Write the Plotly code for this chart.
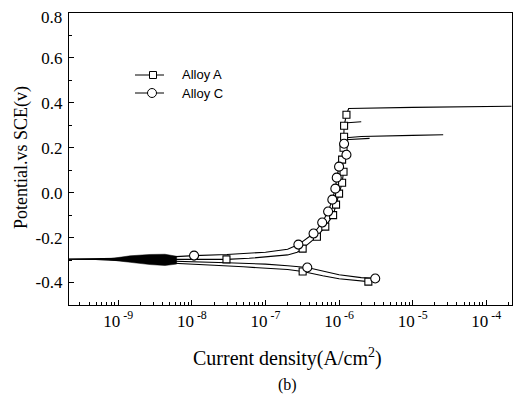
import plotly.graph_objects as go

# ---------------- data (current density A/cm2, potential V vs SCE) ----------------
a_line_cur = [2.5e-6, 1.5e-6, 1.0e-6, 6e-7, 3.2e-7, 2e-7, 1e-7, 5e-8, 2e-8, 1e-8, 5e-9, 2e-9, 1e-9, 5e-10, 2.1e-10,
              1e-9, 3e-9, 1e-8, 2.95e-8, 6e-8, 1e-7, 2e-7, 2.7e-7, 3.2e-7,
              5e-7, 6.5e-7, 8.3e-7, 9.1e-7, 1.0e-6, 1.1e-6, 1.15e-6, 1.1e-6, 1.15e-6, 1.17e-6, 1.17e-6, 1.26e-6,
              1.35e-6, 1e-5, 1e-4, 2.2e-4]
a_line_pot = [-0.396, -0.39, -0.383, -0.37, -0.351, -0.342, -0.335, -0.33, -0.323, -0.318, -0.313, -0.305, -0.299, -0.297, -0.296,
              -0.297, -0.298, -0.299, -0.297, -0.292, -0.287, -0.277, -0.265, -0.249,
              -0.196, -0.151, -0.10, -0.053, -0.004, 0.044, 0.093, 0.147, 0.20, 0.249, 0.298, 0.347,
              0.375, 0.38, 0.382, 0.385]
a_mark_cur = [2.5e-6, 3.2e-7, 2.95e-8, 3.2e-7, 5e-7, 6.5e-7, 8.3e-7, 9.1e-7, 1.0e-6, 1.1e-6, 1.15e-6, 1.1e-6, 1.15e-6, 1.17e-6, 1.17e-6, 1.26e-6]
a_mark_pot = [-0.396, -0.351, -0.297, -0.249, -0.196, -0.151, -0.10, -0.053, -0.004, 0.044, 0.093, 0.147, 0.20, 0.249, 0.298, 0.347]
a_spur_cur = [1.17e-6, 2.0e-6]
a_spur_pot = [0.31, 0.316]

c_line_cur = [3.1e-6, 2e-6, 1e-6, 6e-7, 3.7e-7, 2e-7, 1e-7, 3e-8, 1e-8, 3e-9, 1e-9, 2.1e-10,
              1e-9, 3e-9, 1.07e-8, 3e-8, 1e-7, 2e-7, 2.8e-7,
              4.5e-7, 5.9e-7, 7.1e-7, 8.1e-7, 8.9e-7, 9.3e-7, 1.0e-6, 1.26e-6, 1.17e-6,
              1.25e-6, 2e-6, 1e-5, 2.6e-5]
c_line_pot = [-0.382, -0.378, -0.365, -0.35, -0.333, -0.325, -0.318, -0.312, -0.308, -0.302, -0.298, -0.296,
              -0.294, -0.29, -0.28, -0.275, -0.265, -0.252, -0.231,
              -0.182, -0.133, -0.084, -0.031, 0.018, 0.067, 0.116, 0.169, 0.218,
              0.245, 0.25, 0.255, 0.258]
c_mark_cur = [3.1e-6, 3.7e-7, 1.07e-8, 2.8e-7, 4.5e-7, 5.9e-7, 7.1e-7, 8.1e-7, 8.9e-7, 9.3e-7, 1.0e-6, 1.26e-6, 1.17e-6]
c_mark_pot = [-0.382, -0.333, -0.28, -0.231, -0.182, -0.133, -0.084, -0.031, 0.018, 0.067, 0.116, 0.169, 0.218]
c_spur_cur = [1.2e-6, 2.6e-6]
c_spur_pot = [0.236, 0.242]

noise_cur = [7.6e-10, 1.45e-9, 2.7e-9, 4.3e-9, 6.2e-9, 6.2e-9, 4.3e-9, 2.7e-9, 1.45e-9, 7.6e-10]
noise_pot = [-0.294, -0.281, -0.275, -0.274, -0.283, -0.318, -0.324, -0.32, -0.31, -0.299]

x_tick_exp = [-9, -8, -7, -6, -5, -4]
y_tick_vals = [-0.4, -0.2, 0.0, 0.2, 0.4, 0.6, 0.8]
y_tick_text = ["-0.4", "-0.2", "0.0", "0.2", "0.4", "0.6", "0.8"]
names = ["Alloy A", "Alloy C"]

SERIF = "Liberation Serif"
SANS = "Liberation Sans"
LW = 1.1

fig = go.Figure()
fig.add_trace(go.Scatter(x=noise_cur, y=noise_pot, fill="toself", fillcolor="black",
                         line=dict(color="black", width=0.5), mode="lines", showlegend=False, hoverinfo="skip"))
for cur, pot in [(a_line_cur, a_line_pot), (c_line_cur, c_line_pot), (a_spur_cur, a_spur_pot), (c_spur_cur, c_spur_pot)]:
    fig.add_trace(go.Scatter(x=cur, y=pot, mode="lines", line=dict(color="black", width=LW), showlegend=False))
fig.add_trace(go.Scatter(x=a_mark_cur, y=a_mark_pot, mode="markers", name=names[0], showlegend=False,
                         marker=dict(symbol="square", size=7, color="white", line=dict(color="black", width=1.1))))
fig.add_trace(go.Scatter(x=c_mark_cur, y=c_mark_pot, mode="markers", name=names[1], showlegend=False,
                         marker=dict(symbol="circle", size=9, color="white", line=dict(color="black", width=1.1))))

minor_vals = [k * 10.0 ** d for d in range(-10, -3) for k in range(2, 10)]

# plot area in figure pixels (page is offset by the 8px body margin)
PL, PT, PW, PH = 61, 5, 443, 292


def px(xp):
    return (xp - PL) / PW


def py(yp):
    return (PT + PH - yp) / PH


# manual legend (lines, markers, texts)
leg_rows = [67, 85]
shapes = []
annotations = []
for i, (name, yrow) in enumerate(zip(names, leg_rows)):
    shapes.append(dict(type="line", xref="paper", yref="paper", x0=px(127), x1=px(156), y0=py(yrow), y1=py(yrow),
                       line=dict(color="black", width=1)))
    if i == 0:
        shapes.append(dict(type="rect", xref="paper", yref="paper", xsizemode="pixel", ysizemode="pixel",
                           xanchor=px(145), yanchor=py(yrow), x0=-3.5, x1=3.5, y0=-3.5, y1=3.5,
                           fillcolor="white", line=dict(color="black", width=1)))
    else:
        shapes.append(dict(type="circle", xref="paper", yref="paper", xsizemode="pixel", ysizemode="pixel",
                           xanchor=px(144), yanchor=py(yrow), x0=-4.5, x1=4.5, y0=-4.5, y1=4.5,
                           fillcolor="white", line=dict(color="black", width=1)))
    annotations.append(dict(text=name, xref="paper", yref="paper", x=px(172), y=py(yrow), xanchor="left",
                            yanchor="middle", showarrow=False, font=dict(family=SANS, size=13, color="black")))

# the top tick label sits at the page edge, so it is drawn as an annotation just below its tick
axis_ticktext = y_tick_text[:-1] + [""]
annotations.append(dict(text=y_tick_text[-1], xref="paper", yref="paper", x=px(56), y=py(9),
                        xanchor="right", yanchor="middle", showarrow=False,
                        font=dict(family=SERIF, size=17, color="black")))

annotations += [
    dict(text="Potential.vs SCE(v)", xref="paper", yref="paper", x=px(13), y=py(150), textangle=-90,
         showarrow=False, font=dict(family=SERIF, size=18, color="black"), xanchor="center", yanchor="middle"),
    dict(text="Current density(A/cm<sup>2</sup>)", xref="paper", yref="paper", x=px(279), y=py(349),
         showarrow=False, font=dict(family=SERIF, size=20, color="black"), xanchor="center", yanchor="middle"),
    dict(text="(b)", xref="paper", yref="paper", x=px(279), y=py(377),
         showarrow=False, font=dict(family=SERIF, size=16, color="black"), xanchor="center", yanchor="middle"),
]

fig.update_layout(
    width=513, height=393,
    margin=dict(l=PL, r=513 - PL - PW, t=PT, b=393 - PT - PH, autoexpand=False),
    paper_bgcolor="white", plot_bgcolor="white",
    showlegend=False,
    xaxis=dict(type="log", range=[-9.67, -3.65], automargin=False,
               tickvals=[10.0 ** e for e in x_tick_exp],
               ticktext=["10<sup> -%d</sup>" % (-e) for e in x_tick_exp],
               ticks="inside", ticklen=5, tickcolor="black", showgrid=False, zeroline=False,
               showline=True, linecolor="black", linewidth=1.2, mirror=True,
               tickfont=dict(family=SERIF, size=17, color="black"),
               minor=dict(tickvals=minor_vals, ticks="inside", ticklen=3, tickcolor="black", showgrid=False)),
    yaxis=dict(range=[-0.5, 0.8], tickvals=y_tick_vals, ticktext=axis_ticktext, automargin=False,
               ticks="inside", ticklen=5, tickcolor="black", showgrid=False, zeroline=False,
               showline=True, linecolor="black", linewidth=1.2, mirror=True, ticklabelstandoff=2,
               tickfont=dict(family=SERIF, size=17, color="black"),
               minor=dict(dtick=0.1, ticks="inside", ticklen=3, tickcolor="black", showgrid=False)),
    shapes=shapes,
    annotations=annotations,
)

fig.write_html("out.html")
